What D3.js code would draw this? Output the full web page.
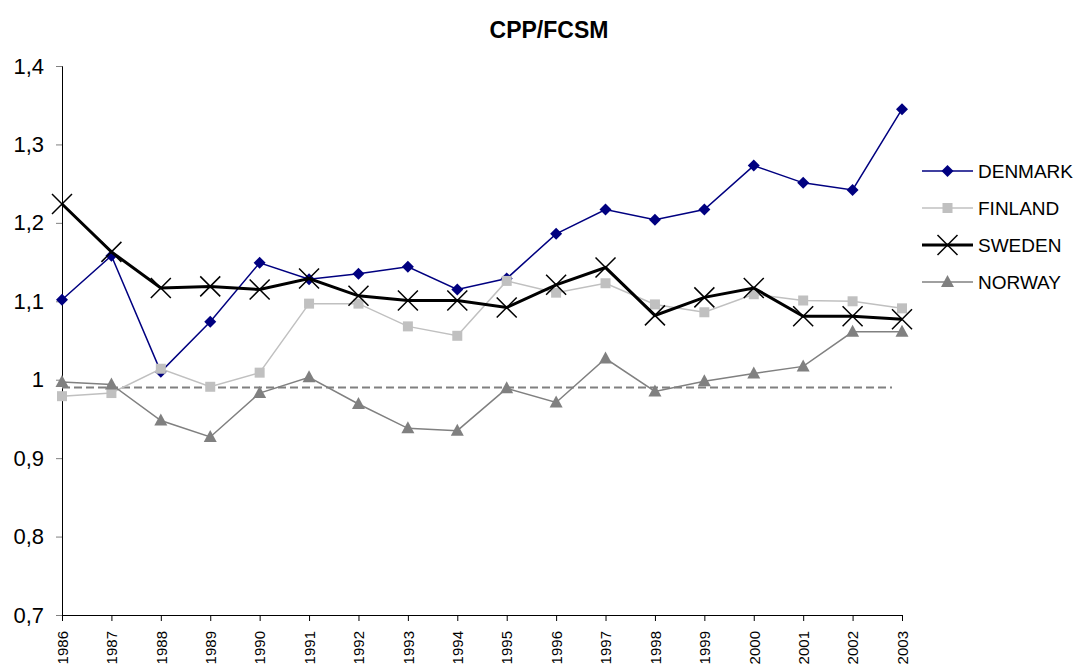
<!DOCTYPE html>
<html>
<head>
<meta charset="utf-8">
<script src="https://cdn.jsdelivr.net/npm/d3@7"></script>
<style>
  body { margin: 0; background: #fff; }
  text { font-family: "Liberation Sans", Arial, sans-serif; }
</style>
</head>
<body>
<div id="chart"></div>
<script>
// Data
var years = [1986, 1987, 1988, 1989, 1990, 1991, 1992, 1993, 1994, 1995, 1996, 1997, 1998, 1999, 2000, 2001, 2002, 2003];
var denmark = [1.102, 1.158, 1.010, 1.074, 1.149, 1.128, 1.135, 1.144, 1.115, 1.129, 1.186, 1.217, 1.204, 1.217, 1.273, 1.251, 1.242, 1.345];
var finland = [0.979, 0.983, 1.014, 0.991, 1.009, 1.097, 1.097, 1.068, 1.056, 1.126, 1.111, 1.123, 1.096, 1.086, 1.109, 1.101, 1.100, 1.091];
var sweden = [1.224, 1.163, 1.117, 1.119, 1.115, 1.129, 1.107, 1.101, 1.101, 1.092, 1.121, 1.143, 1.082, 1.105, 1.117, 1.081, 1.081, 1.077];
var norway = [0.997, 0.994, 0.948, 0.927, 0.983, 1.003, 0.969, 0.938, 0.935, 0.989, 0.971, 1.027, 0.985, 0.998, 1.008, 1.017, 1.061, 1.061];
var refLevel = 0.99;
var yTicks = [0.7, 0.8, 0.9, 1.0, 1.1, 1.2, 1.3, 1.4];

var width = 1077;
var height = 669;
var margin = { top: 66, left: 62, right: 175, bottom: 54 };

var svg = d3.select('#chart')
              .append('svg')
              .attr('width', width)
              .attr('height', height);

var xScale = d3.scalePoint()
                 .domain(years)
                 .range([margin.left, width - margin.right]);

var yScale = d3.scaleLinear()
                 .domain([0.7, 1.4])
                 .range([height - margin.bottom, margin.top]);

var fmt = function (d) { return d === 1 ? '1' : d3.format('.1f')(d).replace('.', ','); };

// Axes
var yAxis = d3.axisLeft(yScale).tickValues(yTicks).tickFormat(fmt).tickSize(6).tickPadding(12);
var gy = svg.append('g')
    .attr('transform', 'translate(' + margin.left + ',0)')
    .call(yAxis);
gy.select('.domain').attr('stroke', '#000');
gy.selectAll('.tick line').attr('stroke', '#808080');
gy.selectAll('.tick text').style('font-size', '22px').attr('fill', '#000');

var xAxis = d3.axisBottom(xScale).tickSizeOuter(0).tickSize(6);
var gx = svg.append('g')
    .attr('transform', 'translate(0,' + (height - margin.bottom) + ')')
    .call(xAxis);
gx.select('.domain').attr('stroke', '#000');
gx.selectAll('.tick line').attr('stroke', '#000');
gx.selectAll('.tick text')
    .style('font-size', '15px')
    .attr('fill', '#000')
    .attr('text-anchor', 'end')
    .attr('transform', 'rotate(-90)')
    .attr('x', -16)
    .attr('y', 0)
    .attr('dy', '0.35em');

// Reference dashed line
svg.append('line')
    .attr('x1', xScale(years[0]))
    .attr('x2', xScale(years[years.length - 1]) - 10)
    .attr('y1', yScale(refLevel))
    .attr('y2', yScale(refLevel))
    .attr('stroke', '#808080')
    .attr('stroke-width', 2)
    .attr('stroke-dasharray', '8,4');

// Series
var series = [
    { name: 'DENMARK', values: denmark, color: '#000080', width: 1.5, marker: 'diamond' },
    { name: 'FINLAND', values: finland, color: '#c0c0c0', width: 1.5, marker: 'square' },
    { name: 'SWEDEN', values: sweden, color: '#000000', width: 3, marker: 'x' },
    { name: 'NORWAY', values: norway, color: '#808080', width: 1.5, marker: 'triangle' }
];

var line = d3.line()
    .x(function (d) { return xScale(d.year); })
    .y(function (d) { return yScale(d.value); });

function drawMarker(g, type, color) {
    if (type === 'diamond') {
        g.append('path').attr('d', 'M0,-6L6,0L0,6L-6,0Z').attr('fill', color);
    } else if (type === 'square') {
        g.append('rect').attr('x', -5).attr('y', -5).attr('width', 10).attr('height', 10).attr('fill', color);
    } else if (type === 'triangle') {
        g.append('path').attr('d', 'M0,-7L6.5,5L-6.5,5Z').attr('fill', color);
    } else {
        g.append('path').attr('d', 'M-10,-10L10,10M-10,10L10,-10').attr('stroke', color).attr('stroke-width', 1.5).attr('fill', 'none');
    }
}

series.forEach(function (s) {
    var pts = years.map(function (y, i) { return { year: y, value: s.values[i] }; });
    svg.append('path')
        .datum(pts)
        .attr('d', line)
        .attr('fill', 'none')
        .attr('stroke', s.color)
        .attr('stroke-width', s.width);
    pts.forEach(function (p) {
        var g = svg.append('g').attr('transform', 'translate(' + xScale(p.year) + ',' + yScale(p.value) + ')');
        drawMarker(g, s.marker, s.color);
    });
});

// Title
svg.append('text')
    .attr('x', 549)
    .attr('y', 38)
    .attr('text-anchor', 'middle')
    .style('font-size', '23px')
    .style('font-weight', 'bold')
    .text('CPP/FCSM');

// Legend
series.forEach(function (s, i) {
    var ly = 171 + i * 37;
    svg.append('line')
        .attr('x1', 922).attr('x2', 973)
        .attr('y1', ly).attr('y2', ly)
        .attr('stroke', s.color)
        .attr('stroke-width', s.width);
    var g = svg.append('g').attr('transform', 'translate(947.5,' + ly + ')');
    drawMarker(g, s.marker, s.color);
    svg.append('text')
        .attr('x', 978)
        .attr('y', ly)
        .attr('dy', '0.35em')
        .style('font-size', '19px')
        .attr('fill', '#000')
        .text(s.name);
});
</script>
</body>
</html>
